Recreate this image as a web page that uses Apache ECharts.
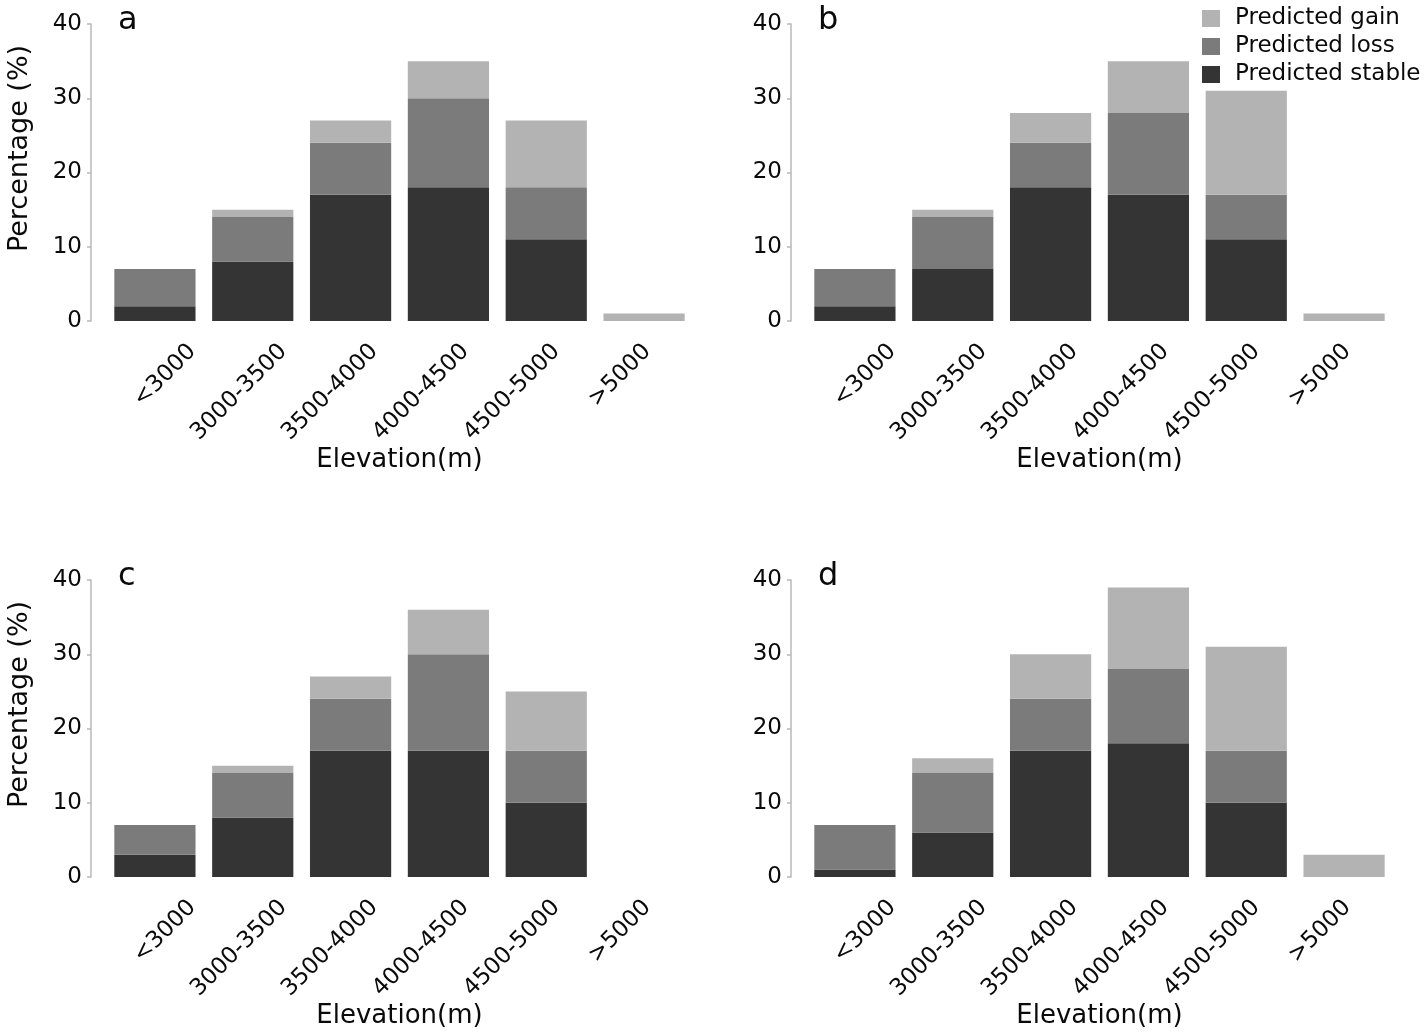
<!DOCTYPE html>
<html>
<head>
<meta charset="utf-8">
<script src="https://cdn.jsdelivr.net/npm/echarts@6/dist/echarts.min.js"></script>
<style>
html,body{margin:0;padding:0;background:#fff;}
#chart{width:1425px;height:1032px;}
</style>
</head>
<body>
<div id="chart"></div>
<script>
// ---- data ----
const categories = ['<3000', '3000-3500', '3500-4000', '4000-4500', '4500-5000', '>5000'];
const yTicks = [0, 10, 20, 30, 40];
const panelLetters = ['a', 'b', 'c', 'd'];
const seriesNames = ['Predicted stable', 'Predicted loss', 'Predicted gain'];

const stableA = [2, 8, 17, 18, 11, 0];
const lossA   = [5, 6, 7, 12, 7, 0];
const gainA   = [0, 1, 3, 5, 9, 1];

const stableB = [2, 7, 18, 17, 11, 0];
const lossB   = [5, 7, 6, 11, 6, 0];
const gainB   = [0, 1, 4, 7, 14, 1];

const stableC = [3, 8, 17, 17, 10, 0];
const lossC   = [4, 6, 7, 13, 7, 0];
const gainC   = [0, 1, 3, 6, 8, 0];

const stableD = [1, 6, 17, 18, 10, 0];
const lossD   = [6, 8, 7, 10, 7, 0];
const gainD   = [0, 2, 6, 11, 14, 3];

const panels = [
  [stableA, lossA, gainA],
  [stableB, lossB, gainB],
  [stableC, lossC, gainC],
  [stableD, lossD, gainD]
];

// ---- styling / layout ----
const FONT = 'DejaVu Sans';
const colors = ['#343434', '#7b7b7b', '#b3b3b3'];
const TXT = '#0a0a0a';
const AXC = '#b8b8b8';
const panelPos = [
  {x: 0, y: 0}, {x: 700, y: 0}, {x: 0, y: 556}, {x: 700, y: 556}
];

const grid = [], xAxis = [], yAxis = [], series = [], title = [];

panelPos.forEach((p, i) => {
  // bar grid
  grid.push({left: 106 + p.x, top: 24 + p.y, width: 587, height: 297, containLabel: false});
  // label grid (tick labels only)
  grid.push({left: 147 + p.x, top: 24 + p.y, width: 546, height: 297, containLabel: false});

  xAxis.push({
    type: 'category', gridIndex: 2 * i, data: categories,
    axisLine: {show: false}, axisTick: {show: false}, axisLabel: {show: false},
    name: 'Elevation(m)', nameLocation: 'middle', nameGap: 126,
    nameTextStyle: {fontFamily: FONT, fontSize: 26, color: TXT}
  });
  xAxis.push({
    type: 'category', gridIndex: 2 * i + 1, data: categories,
    axisLine: {show: false}, axisTick: {show: false},
    axisLabel: {rotate: 45, margin: 27, interval: 0, fontFamily: FONT, fontSize: 23, color: TXT}
  });

  const left = (i % 2 === 0);
  yAxis.push({
    type: 'value', gridIndex: 2 * i, min: yTicks[0], max: yTicks[yTicks.length - 1], interval: 10,
    offset: 15,
    axisLine: {show: true, lineStyle: {color: AXC, width: 1.5}},
    axisTick: {show: true, length: 4, lineStyle: {color: AXC, width: 1.5}},
    axisLabel: {margin: 9, fontFamily: FONT, fontSize: 23, color: TXT},
    splitLine: {show: false},
    name: left ? 'Percentage (%)' : '', nameLocation: 'middle', nameGap: 58,
    nameTextStyle: {fontFamily: FONT, fontSize: 27, color: TXT, padding: [0, 0, 0, 48]}
  });
  yAxis.push({type: 'value', gridIndex: 2 * i + 1, min: 0, max: 40, show: false});

  panels[i].forEach((vals, k) => {
    series.push({
      type: 'bar', name: seriesNames[k], stack: 'p' + i,
      xAxisIndex: 2 * i, yAxisIndex: 2 * i,
      data: vals, barCategoryGap: '17%',
      itemStyle: {color: colors[k]}
    });
  });

  title.push({
    text: panelLetters[i], left: 118 + p.x, top: p.y + 5, padding: 0,
    textStyle: {fontFamily: FONT, fontSize: 32, fontWeight: 'normal', color: TXT}
  });
});

const option = {
  animation: false,
  backgroundColor: '#fff',
  title: title,
  legend: {
    orient: 'vertical', left: 1202, top: 7, padding: 0,
    itemWidth: 18, itemHeight: 17, itemGap: 5,
    icon: 'rect',
    data: ['Predicted gain', 'Predicted loss', 'Predicted stable'],
    textStyle: {fontFamily: FONT, fontSize: 23, color: TXT, padding: [0, 0, 0, 10]}
  },
  grid: grid, xAxis: xAxis, yAxis: yAxis, series: series
};

const chart = echarts.init(document.getElementById('chart'), null, {renderer: 'canvas'});
chart.setOption(option);
</script>
</body>
</html>
